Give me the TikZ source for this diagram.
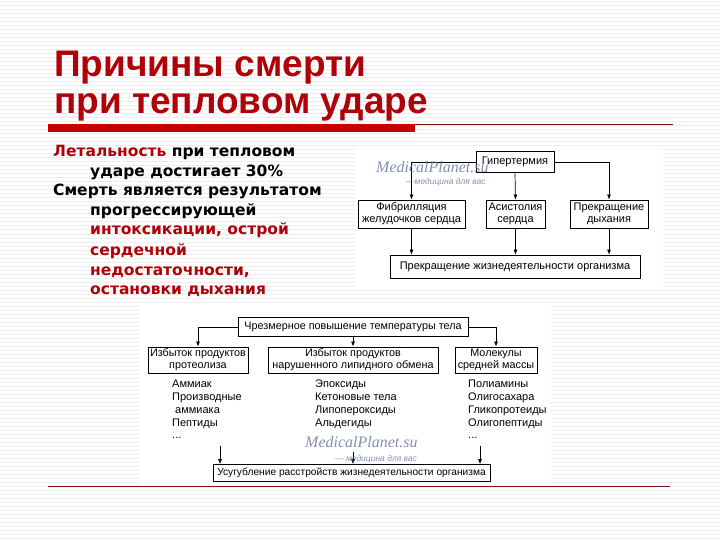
\documentclass[tikz,border=0pt]{standalone}
\usepackage{fontspec}
\setmainfont{Liberation Sans}
\newfontfamily\headfont{Liberation Sans}
\newfontfamily\bodyfont{DejaVu Sans}
\newfontfamily\markfont{Liberation Serif}
\usetikzlibrary{arrows.meta}
\definecolor{titlered}{RGB}{176,0,8}
\definecolor{barred}{RGB}{200,0,0}
\definecolor{linered}{RGB}{125,20,20}
\definecolor{markblue}{RGB}{110,125,165}

\begin{document}
\begin{tikzpicture}[x=1pt,y=-1pt,
  cell/.style={draw,line width=.8pt,fill=white,align=center,inner sep=1pt,font=\fontsize{11}{12}\selectfont},
  cellsm/.style={cell,font=\fontsize{10.8}{11.8}\selectfont},
  flow/.style={line width=.7pt,-{Latex[length=5pt,width=4pt]}},
  body/.style={anchor=base west,inner sep=0pt,font=\bodyfont\bfseries\fontsize{15.5}{18}\selectfont},
  head/.style={anchor=base west,inner sep=0pt,text=titlered,font=\headfont\bfseries\fontsize{37}{40}\selectfont},
  list/.style={anchor=north west,align=left,inner sep=0pt,font=\fontsize{11}{12.8}\selectfont},
  wmark/.style={anchor=base west,inner sep=0pt,text=markblue,opacity=.85}]
\useasboundingbox (0,0) rectangle (720,540);
\fill[white] (0,0) rectangle (720,540);
\foreach \s in {2,6,...,538} \draw[gray!14,line width=1pt] (0,\s)--(720,\s);
\node[head] (title1) at (54,77) {Причины смерти};
\node[head] (title2) at (54,114) {при тепловом ударе};
\fill[barred] (48,124) rectangle (415,132);
\draw[linered,line width=1pt] (415,125)--(673,125);
\draw[linered,line width=1pt] (48,486)--(670,486);
\node[body] (l1) at (53,157) {\textcolor{titlered}{Летальность} при тепловом};
\node[body] (l2) at (90,177) {ударе достигает 30\%};
\node[body] (l3) at (53,196) {Смерть является результатом};
\node[body] (l4) at (90,215) {прогрессирующей};
\node[body,text=titlered] (l5) at (90,235) {интоксикации, острой};
\node[body,text=titlered] (l6) at (90,255) {сердечной};
\node[body,text=titlered] (l7) at (90,275) {недостаточности,};
\node[body,text=titlered] (l8) at (90,294) {остановки дыхания};
\fill[white] (355,147) rectangle (663,288);
\node[cell,minimum width=78pt,minimum height=21pt] (hyper) at (515,162) {Гипертермия};
\node[cell,minimum width=107pt,minimum height=28pt] (fib) at (411.5,214) {Фибрилляция\\желудочков сердца};
\node[cell,minimum width=59pt,minimum height=28pt] (asys) at (515.5,214) {Асистолия\\сердца};
\node[cell,minimum width=78pt,minimum height=28pt] (breath) at (609,214) {Прекращение\\дыхания};
\node[cell,minimum width=250pt,minimum height=23pt] (life) at (515,266.5) {Прекращение жизнедеятельности организма};
\draw[flow] (hyper.west) -| (fib.north);
\draw[flow] (hyper.south)--(asys.north);
\draw[flow] (hyper.east) -| (breath.north);
\draw[flow] (fib.south)--(fib.south |- life.north);
\draw[flow] (asys.south)--(asys.south |- life.north);
\draw[flow] (breath.south)--(breath.south |- life.north);
\node[wmark,font=\markfont\itshape\fontsize{16}{16}\selectfont] (mark1) at (376,173) {MedicalPlanet.su};
\node[wmark,font=\itshape\fontsize{8.5}{9}\selectfont] (mark1b) at (406,184.5) {—медицина для вас};
\fill[white] (139,306) rectangle (551,484);
\node[cellsm,minimum width=230pt,minimum height=19pt] (heat) at (353,327) {Чрезмерное повышение температуры тела};
\node[cellsm,minimum width=100pt,minimum height=26pt] (prot) at (198,360) {Избыток продуктов\\протеолиза};
\node[cellsm,minimum width=170pt,minimum height=26pt] (lipid) at (353,360) {Избыток продуктов\\нарушенного липидного обмена};
\node[cellsm,minimum width=82pt,minimum height=26pt] (mol) at (496,360) {Молекулы\\средней массы};
\draw[flow] (heat.west) -| (prot.north);
\draw[flow] (heat.south)--(lipid.north);
\draw[flow] (heat.east) -| (mol.north);
\node[list] (col1) at (172,380) {Аммиак\\Производные\\\hspace*{3pt}аммиака\\Пептиды\\...};
\node[list] (col2) at (315,380) {Эпоксиды\\Кетоновые тела\\Липопероксиды\\Альдегиды};
\node[list] (col3) at (468,380) {Полиамины\\Олигосахара\\Гликопротеиды\\Олигопептиды\\...};
\node[cell,font=\fontsize{10.2}{11}\selectfont,minimum width=277pt,minimum height=17pt] (worse) at (351.5,473) {Усугубление расстройств жизнедеятельности организма};
\coordinate (a1) at (220,446);
\coordinate (a2) at (353,452);
\coordinate (a3) at (480,446);
\foreach \a in {a1,a2,a3} \draw[flow] (\a)--(\a |- worse.north);
\node[wmark,font=\markfont\itshape\fontsize{16}{16}\selectfont] (mark2) at (305,447) {MedicalPlanet.su};
\node[wmark,font=\itshape\fontsize{8.5}{9}\selectfont] (mark2b) at (335,461) {— медицина для вас};
\end{tikzpicture}
\end{document}
